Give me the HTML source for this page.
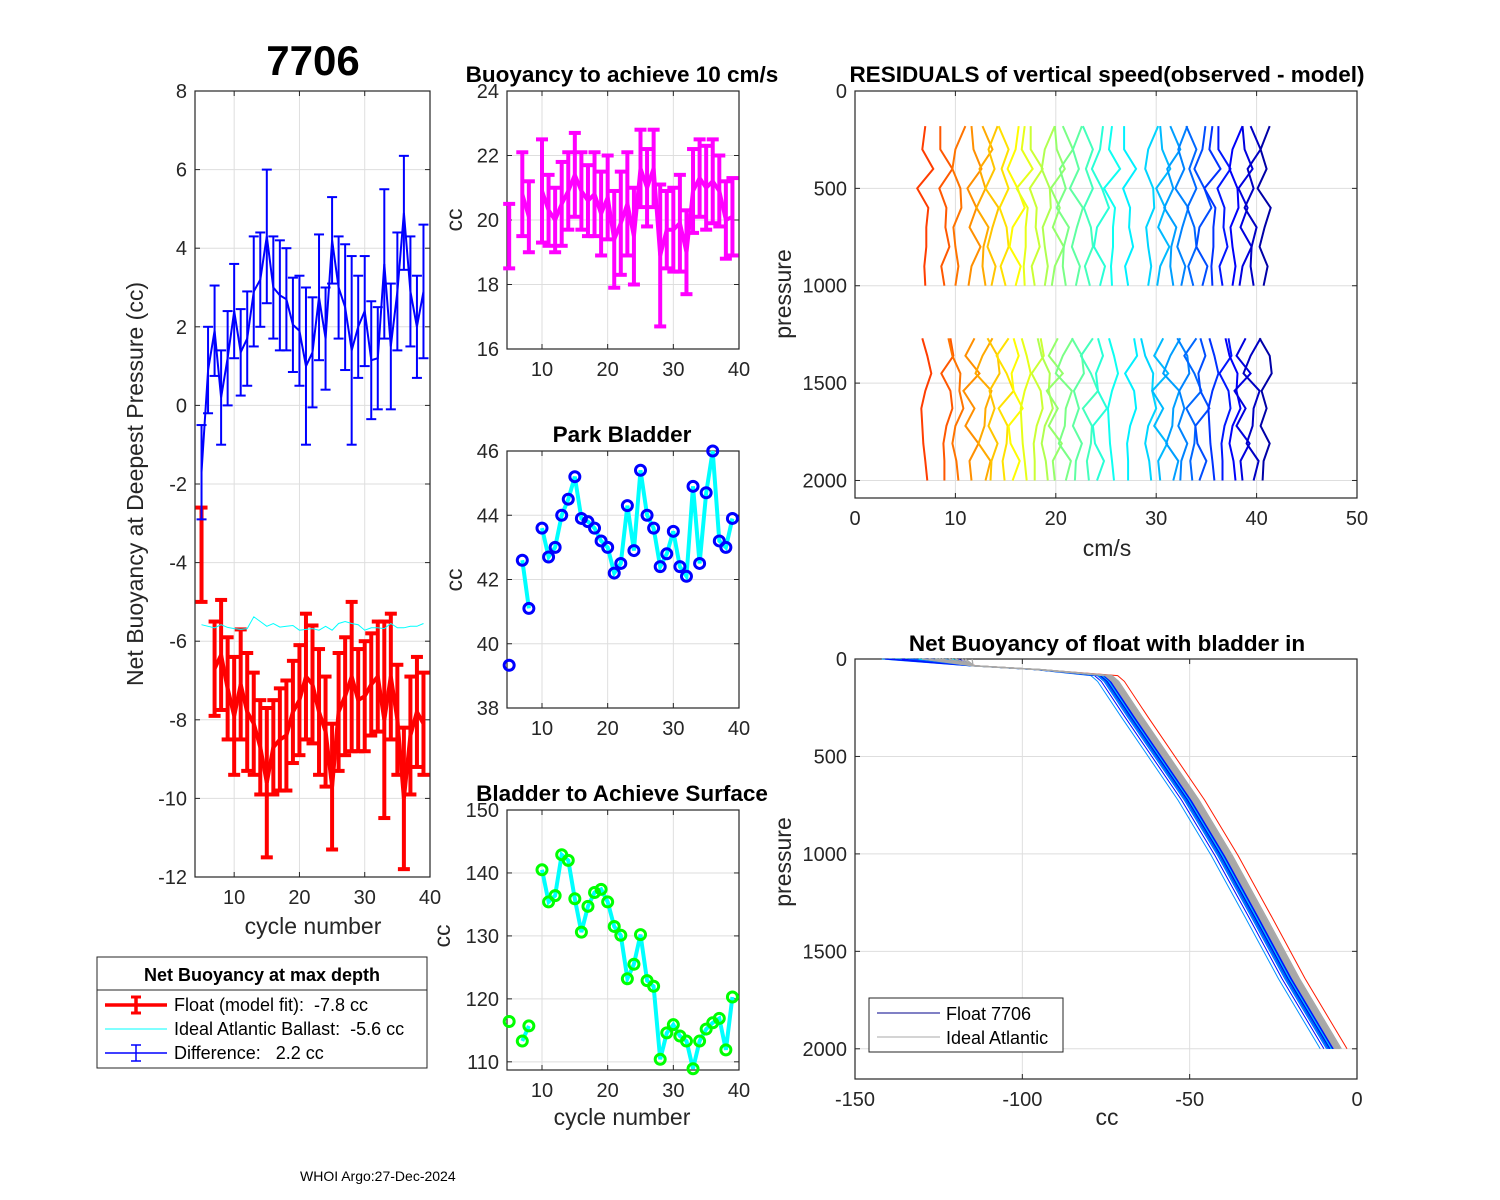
<!DOCTYPE html>
<html><head><meta charset="utf-8"><title>Float 7706 buoyancy diagnostics</title>
<style>
html,body{margin:0;padding:0;background:#fff;}
svg{display:block;font-family:"Liberation Sans",Arial,sans-serif;}
text{white-space:pre;}
</style></head>
<body>
<svg id="chart" width="1500" height="1200" viewBox="0 0 1500 1200" xmlns="http://www.w3.org/2000/svg">
<rect x="0" y="0" width="1500" height="1200" fill="#fff"/>
<text x="313" y="75" text-anchor="middle" font-size="42" font-weight="bold" fill="#000">7706</text>
<text x="622" y="82" text-anchor="middle" font-size="22.5" font-weight="bold">Buoyancy to achieve 10 cm/s</text>
<text x="622" y="442" text-anchor="middle" font-size="22.5" font-weight="bold">Park Bladder</text>
<text x="622" y="801" text-anchor="middle" font-size="22.5" font-weight="bold">Bladder to Achieve Surface</text>
<text x="1107" y="82" text-anchor="middle" font-size="22.5" font-weight="bold">RESIDUALS of vertical speed(observed - model)</text>
<text x="1107" y="651" text-anchor="middle" font-size="22.5" font-weight="bold">Net Buoyancy of float with bladder in</text>
<text x="313" y="934" text-anchor="middle" font-size="23" fill="#262626">cycle number</text>
<text x="622" y="1125" text-anchor="middle" font-size="23" fill="#262626">cycle number</text>
<text x="1107" y="556" text-anchor="middle" font-size="23" fill="#262626">cm/s</text>
<text x="1107" y="1125" text-anchor="middle" font-size="23" fill="#262626">cc</text>
<text transform="translate(143,484) rotate(-90)" text-anchor="middle" font-size="23" fill="#262626">Net Buoyancy at Deepest Pressure (cc)</text>
<text transform="translate(462,220) rotate(-90)" text-anchor="middle" font-size="23" fill="#262626">cc</text>
<text transform="translate(462,580) rotate(-90)" text-anchor="middle" font-size="23" fill="#262626">cc</text>
<text transform="translate(450,936) rotate(-90)" text-anchor="middle" font-size="23" fill="#262626">cc</text>
<text transform="translate(791,294) rotate(-90)" text-anchor="middle" font-size="23" fill="#262626">pressure</text>
<text transform="translate(791,862) rotate(-90)" text-anchor="middle" font-size="23" fill="#262626">pressure</text>
<text x="300" y="1181" font-size="14" fill="#000">WHOI Argo:27-Dec-2024</text>
</svg>
<script>
// ---- data ----
const cycles = [5,6,7,8,9,10,11,12,13,14,15,16,17,18,19,20,21,22,23,24,25,26,27,28,29,30,31,32,33,34,35,36,37,38,39];
const diffValues = [-1.7,0.9,1.9,0.2,1.2,2.4,1.35,1.7,2.9,3.2,4.3,3.0,2.8,2.7,2.05,1.9,1.0,1.35,2.75,1.7,4.2,3.0,2.5,1.4,2.0,2.4,1.15,1.2,3.6,1.5,2.9,4.9,2.9,2.0,2.9];
const diffErr = [1.2,1.1,1.15,1.2,1.2,1.2,1.1,1.2,1.4,1.2,1.7,1.3,1.4,1.3,1.2,1.4,2.0,1.4,1.6,1.3,1.1,1.3,1.6,2.4,1.3,1.4,1.5,1.3,1.9,1.6,1.5,1.45,1.4,1.3,1.7];
const floatValues = [-3.8,null,-6.7,-6.35,-7.2,-7.9,-7.1,-7.8,-8.1,-8.7,-9.6,-8.7,-8.5,-8.4,-7.8,-7.5,-6.9,-7.1,-7.8,-8.3,-9.7,-7.8,-7.4,-6.9,-7.5,-7.4,-7.1,-6.9,-8.0,-6.9,-8.0,-10.0,-8.4,-7.8,-8.1];
const floatErr = [1.2,null,1.2,1.4,1.3,1.5,1.4,1.5,1.3,1.2,1.9,1.2,1.3,1.4,1.3,1.4,1.6,1.5,1.6,1.4,1.6,1.5,1.5,1.9,1.3,1.4,1.3,1.4,2.5,1.6,1.4,1.8,1.5,1.4,1.3];
const idealBallast = [-5.58,-5.62,-5.66,-5.58,-5.65,-5.68,-5.7,-5.68,-5.38,-5.5,-5.62,-5.55,-5.64,-5.62,-5.6,-5.72,-5.7,-5.68,-5.72,-5.62,-5.72,-5.55,-5.5,-5.55,-5.58,-5.72,-5.66,-5.66,-5.68,-5.55,-5.66,-5.66,-5.62,-5.62,-5.55];
const speedBuoy = [19.5,null,20.8,20.1,null,20.9,20.3,20.0,20.5,20.9,21.4,20.9,20.6,20.8,20.2,20.7,19.4,19.9,20.5,19.5,21.6,21.0,21.6,18.9,19.7,19.7,19.9,19.0,20.9,21.3,21.0,21.2,20.9,20.0,20.1];
const speedErr = [1.0,null,1.3,1.1,null,1.6,1.1,1.0,1.3,1.2,1.3,1.2,1.1,1.3,1.3,1.3,1.5,1.6,1.6,1.5,1.2,1.2,1.2,2.2,1.2,1.3,1.5,1.3,1.3,1.2,1.3,1.3,1.1,1.2,1.2];
const parkBladder = [39.33,null,42.6,41.1,null,43.6,42.7,43.0,44.0,44.5,45.2,43.9,43.8,43.6,43.2,43.0,42.2,42.5,44.3,42.9,45.4,44.0,43.6,42.4,42.8,43.5,42.4,42.1,44.9,42.5,44.7,46.0,43.2,43.0,43.9];
const surfaceBladder = [116.4,null,113.3,115.7,null,140.5,135.4,136.4,142.9,142.0,135.9,130.6,134.7,136.9,137.4,135.4,131.5,130.1,123.2,125.5,130.2,122.9,122.0,110.4,114.6,115.9,114.1,113.3,108.9,113.3,115.2,116.2,116.9,111.9,120.3];

const resOffsets = [7.0,8.9,10.0,11.6,12.9,13.7,14.9,16.0,16.9,17.9,18.9,19.9,20.9,22.1,23.3,24.4,25.6,27.2,29.2,30.4,31.6,32.6,33.6,34.6,35.6,36.6,37.6,38.6,39.6,40.8];
const resPressTop = [180,300,400,500,600,700,800,900,1000];
const resPressBot = [1270,1360,1450,1540,1630,1720,1810,1900,2000];
const resPatterns = [
 [0.0,-0.3,0.8,-0.8,0.3,0.1,0.1,-0.1,0.0, -0.3,0.2,0.6,0.0,-0.4,-0.3,-0.2,0.0,0.2],
 [-0.4,-0.4,0.8,-0.5,0.2,0.1,0.5,-0.3,0.0, 0.6,0.9,-0.3,0.6,0.8,0.2,-0.1,0.0,0.0],
 [1.0,0.0,-0.3,0.5,0.6,-0.2,0.0,0.3,0.0, -0.7,-0.3,0.5,0.4,0.8,0.0,-0.3,0.1,0.3],
 [0.0,0.2,1.0,-0.4,0.5,-0.2,0.9,0.0,-0.3, 0.3,-0.6,0.8,-0.8,0.3,-0.6,0.7,-0.2,0.0],
 [-0.2,0.8,-0.5,0.1,-0.8,0.4,-0.1,-0.2,0.1, 0.8,-0.2,-0.9,0.7,0.1,0.0,-0.6,0.6,0.1],
 [0.5,-0.4,0.2,-0.7,0.6,0.0,-0.5,0.3,-0.1, -0.5,0.5,0.7,-0.3,0.2,-0.4,0.5,-0.1,-0.2],
 [-0.6,0.4,-0.3,0.4,-0.5,0.2,0.4,-0.4,0.1, 0.4,-0.8,0.2,0.9,-0.6,0.3,0.2,-0.2,0.0],
 [0.3,0.0,-0.8,0.2,0.9,-0.3,-0.6,0.5,0.0, -0.2,0.3,-0.4,-0.2,0.7,-0.7,-0.5,0.4,-0.3]
];

const profileCC = [-140,-115,-95,-76,-74,-67,-50,-40,-30,-20,-7.5];
const profileP = [0,35,55,85,115,296,724,1010,1323,1640,2000];
const floatShift = [4.5,-1.2,0.5,-0.8,-3.5,0.2,-0.5,-1.0,0.8,-0.3,-1.6,0.0,-0.7,0.4,-1.3,-0.2,-0.9,0.6,-0.4,-2.4,0.1,-0.6,-1.1,0.3,-0.8,-0.1,-1.4,0.5,-0.5,-0.9,0.2,-0.3,-1.0,-0.6,-0.2];
const floatTopStart = [-122,-140,-138,-130,-142,-128,-134,-120,-136,-125,-132,-118,-140,-127,-135,-122,-130,-138,-124,-141,-126,-133,-119,-137,-129,-131,-123,-139,-121,-128,-136,-126,-134,-120,-130];
const idealShift = [0.8,1.2,1.6,2.0,2.4,1.0,1.8,2.8,1.4,2.2];
const idealTopStart = [-130,-125,-118,-128,-122,-115,-126,-120,-124,-117];

// ---- helpers ----
const NS = 'http://www.w3.org/2000/svg';
const svg = document.getElementById('chart');
function mk(tag, attrs, name, parent) {
  const el = document.createElementNS(NS, tag);
  for (const k in attrs) el.setAttribute(k, attrs[k]);
  
  
  (parent || svg).appendChild(el);
  return el;
}
function jet(t) {
  const c = v => Math.round(255 * Math.max(0, Math.min(1, v)));
  return 'rgb(' + c(1.5 - Math.abs(4*t - 3)) + ',' + c(1.5 - Math.abs(4*t - 2)) + ',' + c(1.5 - Math.abs(4*t - 1)) + ')';
}
function makeAxes(cfg) {
  const g = mk('g', {}, cfg.name);
  const sx = v => cfg.px0 + (v - cfg.xmin) / (cfg.xmax - cfg.xmin) * (cfg.px1 - cfg.px0);
  const sy = cfg.rev
    ? v => cfg.py0 + (v - cfg.ymin) / (cfg.ymax - cfg.ymin) * (cfg.py1 - cfg.py0)
    : v => cfg.py1 - (v - cfg.ymin) / (cfg.ymax - cfg.ymin) * (cfg.py1 - cfg.py0);
  cfg.xticks.forEach(t => {
    mk('line', {x1: sx(t), x2: sx(t), y1: cfg.py0, y2: cfg.py1, stroke: '#dedede', 'stroke-width': 1}, 'x-grid-line', g);
  });
  cfg.yticks.forEach(t => {
    mk('line', {x1: cfg.px0, x2: cfg.px1, y1: sy(t), y2: sy(t), stroke: '#dedede', 'stroke-width': 1}, 'y-grid-line', g);
  });
  mk('rect', {x: cfg.px0, y: cfg.py0, width: cfg.px1 - cfg.px0, height: cfg.py1 - cfg.py0, fill: 'none', stroke: '#262626', 'stroke-width': 1.2}, 'axes-box', g);
  cfg.xticks.forEach(t => {
    mk('line', {x1: sx(t), x2: sx(t), y1: cfg.py1, y2: cfg.py1 - 5, stroke: '#262626'}, 'x-tick', g);
    mk('line', {x1: sx(t), x2: sx(t), y1: cfg.py0, y2: cfg.py0 + 5, stroke: '#262626'}, 'x-tick', g);
    const tx = mk('text', {x: sx(t), y: cfg.py1 + 27, 'text-anchor': 'middle', 'font-size': 20, fill: '#262626'}, 'x-tick-label', g);
    tx.textContent = String(t);
  });
  cfg.yticks.forEach(t => {
    mk('line', {x1: cfg.px0, x2: cfg.px0 + 5, y1: sy(t), y2: sy(t), stroke: '#262626'}, 'y-tick', g);
    mk('line', {x1: cfg.px1, x2: cfg.px1 - 5, y1: sy(t), y2: sy(t), stroke: '#262626'}, 'y-tick', g);
    const ty = mk('text', {x: cfg.px0 - 8, y: sy(t) + 7, 'text-anchor': 'end', 'font-size': 20, fill: '#262626'}, 'y-tick-label', g);
    ty.textContent = String(t);
  });
  return {sx, sy, g};
}
function linePath(xs, ys, sx, sy) {
  let d = '', pen = false;
  for (let i = 0; i < xs.length; i++) {
    if (ys[i] === null) { pen = false; continue; }
    d += (pen ? 'L' : 'M') + sx(xs[i]).toFixed(1) + ',' + sy(ys[i]).toFixed(1);
    pen = true;
  }
  return d;
}
function errorBars(ax, vals, errs, color, width, cap, name) {
  cycles.forEach((c, i) => {
    if (vals[i] === null) return;
    const x = ax.sx(c), y1 = ax.sy(vals[i] + errs[i]), y2 = ax.sy(vals[i] - errs[i]);
    mk('line', {x1: x, x2: x, y1: y1, y2: y2, stroke: color, 'stroke-width': width}, name + '-bar', ax.g);
    mk('line', {x1: x - cap, x2: x + cap, y1: y1, y2: y1, stroke: color, 'stroke-width': width}, name + '-cap-top', ax.g);
    mk('line', {x1: x - cap, x2: x + cap, y1: y2, y2: y2, stroke: color, 'stroke-width': width}, name + '-cap-bottom', ax.g);
  });
  mk('path', {d: linePath(cycles, vals, ax.sx, ax.sy), fill: 'none', stroke: color, 'stroke-width': width, 'stroke-linejoin': 'miter'}, name + '-line', ax.g);
}
function markers(ax, vals, color, name) {
  cycles.forEach((c, i) => {
    if (vals[i] === null) return;
    mk('circle', {cx: ax.sx(c), cy: ax.sy(vals[i]), r: 5, fill: 'none', stroke: color, 'stroke-width': 3}, name, ax.g);
  });
}

// ---- left panel ----
const axL = makeAxes({name: 'net-buoyancy-axes', px0: 195, px1: 430, py0: 91, py1: 877, xmin: 4, xmax: 40, ymin: -12, ymax: 8, xticks: [10,20,30,40], yticks: [-12,-10,-8,-6,-4,-2,0,2,4,6,8]});
errorBars(axL, floatValues, floatErr, '#ff0000', 4, 6, 'float-model-fit');
mk('path', {d: linePath(cycles, idealBallast, axL.sx, axL.sy), fill: 'none', stroke: '#00ffff', 'stroke-width': 1}, 'ideal-ballast-line', axL.g);
errorBars(axL, diffValues, diffErr, '#0000ff', 2, 5, 'difference');

// ---- legend left ----
const lg = mk('g', {}, 'net-buoyancy-legend');
mk('rect', {x: 97, y: 957, width: 330, height: 111, fill: '#fff', stroke: '#262626', 'stroke-width': 1}, 'legend-box', lg);
mk('line', {x1: 97, x2: 427, y1: 990, y2: 990, stroke: '#262626', 'stroke-width': 1}, 'legend-separator', lg);
const lt = mk('text', {x: 262, y: 981, 'text-anchor': 'middle', 'font-size': 18, 'font-weight': 'bold'}, 'legend-title', lg);
lt.textContent = 'Net Buoyancy at max depth';
mk('line', {x1: 105, x2: 167, y1: 1005, y2: 1005, stroke: '#ff0000', 'stroke-width': 3.5}, 'legend-float-line', lg);
mk('line', {x1: 136, x2: 136, y1: 997, y2: 1013, stroke: '#ff0000', 'stroke-width': 3.5}, 'legend-float-bar', lg);
mk('line', {x1: 131, x2: 141, y1: 997, y2: 997, stroke: '#ff0000', 'stroke-width': 3}, 'legend-float-cap', lg);
mk('line', {x1: 131, x2: 141, y1: 1013, y2: 1013, stroke: '#ff0000', 'stroke-width': 3}, 'legend-float-cap', lg);
mk('line', {x1: 105, x2: 167, y1: 1029, y2: 1029, stroke: '#00ffff', 'stroke-width': 1}, 'legend-ideal-line', lg);
mk('line', {x1: 105, x2: 167, y1: 1053, y2: 1053, stroke: '#0000ff', 'stroke-width': 1.5}, 'legend-diff-line', lg);
mk('line', {x1: 136, x2: 136, y1: 1045, y2: 1061, stroke: '#0000ff', 'stroke-width': 1.5}, 'legend-diff-bar', lg);
mk('line', {x1: 131, x2: 141, y1: 1045, y2: 1045, stroke: '#0000ff', 'stroke-width': 1.5}, 'legend-diff-cap', lg);
mk('line', {x1: 131, x2: 141, y1: 1061, y2: 1061, stroke: '#0000ff', 'stroke-width': 1.5}, 'legend-diff-cap', lg);
const l1 = mk('text', {x: 174, y: 1011, 'font-size': 18}, 'legend-float-label', lg);
l1.textContent = 'Float (model fit):  -7.8 cc';
const l2 = mk('text', {x: 174, y: 1035, 'font-size': 18}, 'legend-ideal-label', lg);
l2.textContent = 'Ideal Atlantic Ballast:  -5.6 cc';
const l3 = mk('text', {x: 174, y: 1059, 'font-size': 18}, 'legend-diff-label', lg);
l3.textContent = 'Difference:   2.2 cc';

// ---- middle panels ----
const axB = makeAxes({name: 'buoyancy-10cms-axes', px0: 507, px1: 739, py0: 91, py1: 349, xmin: 4.67, xmax: 40, ymin: 16, ymax: 24, xticks: [10,20,30,40], yticks: [16,18,20,22,24]});
errorBars(axB, speedBuoy, speedErr, '#ff00ff', 4, 6, 'speed-buoyancy');

const axP = makeAxes({name: 'park-bladder-axes', px0: 507, px1: 739, py0: 451, py1: 708, xmin: 4.67, xmax: 40, ymin: 38, ymax: 46, xticks: [10,20,30,40], yticks: [38,40,42,44,46]});
mk('path', {d: linePath(cycles, parkBladder, axP.sx, axP.sy), fill: 'none', stroke: '#00ffff', 'stroke-width': 4}, 'park-bladder-line', axP.g);
markers(axP, parkBladder, '#0000ff', 'park-bladder-marker');

const axS = makeAxes({name: 'surface-bladder-axes', px0: 507, px1: 739, py0: 810, py1: 1070, xmin: 4.67, xmax: 40, ymin: 108.7, ymax: 150, xticks: [10,20,30,40], yticks: [110,120,130,140,150]});
mk('path', {d: linePath(cycles, surfaceBladder, axS.sx, axS.sy), fill: 'none', stroke: '#00ffff', 'stroke-width': 4}, 'surface-bladder-line', axS.g);
markers(axS, surfaceBladder, '#00ff00', 'surface-bladder-marker');

// ---- residuals ----
const axR = makeAxes({name: 'residuals-axes', px0: 855, px1: 1357, py0: 91, py1: 498, xmin: 0, xmax: 50, ymin: 0, ymax: 2090, rev: true, xticks: [0,10,20,30,40,50], yticks: [0,500,1000,1500,2000]});
resOffsets.forEach((off, i) => {
  const pat = resPatterns[i % resPatterns.length];
  const col = jet(0.815 - i * (0.775 / (resOffsets.length - 1)));
  const xsTop = resPressTop.map((p, k) => off + pat[k]);
  const xsBot = resPressBot.map((p, k) => off + pat[9 + k]);
  let d = 'M' + resPressTop.map((p, k) => axR.sx(xsTop[k]).toFixed(1) + ',' + axR.sy(p).toFixed(1)).join('L');
  d += 'M' + resPressBot.map((p, k) => axR.sx(xsBot[k]).toFixed(1) + ',' + axR.sy(p).toFixed(1)).join('L');
  mk('path', {d: d, fill: 'none', stroke: col, 'stroke-width': 2}, 'residual-profile', axR.g);
});

// ---- profiles ----
const axF = makeAxes({name: 'profile-axes', px0: 855, px1: 1357, py0: 659, py1: 1079, xmin: -150, xmax: 0, ymin: 0, ymax: 2155, rev: true, xticks: [-150,-100,-50,0], yticks: [0,500,1000,1500,2000]});
function profilePath(shift, start) {
  return profileCC.map((c, k) => {
    const cc = k === 0 ? start : (k < 3 ? c + shift * 0.3 : c + shift);
    return (k ? 'L' : 'M') + axF.sx(cc).toFixed(1) + ',' + axF.sy(profileP[k]).toFixed(1);
  }).join('');
}
floatShift.forEach((s, i) => {
  const t = i === 0 ? 0.85 : 0.1 + 0.28 * ((i * 7) % 11) / 10;
  mk('path', {d: profilePath(s, floatTopStart[i]), fill: 'none', stroke: jet(t), 'stroke-width': 1}, 'float-profile', axF.g);
});
idealShift.forEach((s, i) => {
  mk('path', {d: profilePath(s, idealTopStart[i]), fill: 'none', stroke: '#a8a8a8', 'stroke-width': 1.3}, 'ideal-profile', axF.g);
});
const lg2 = mk('g', {}, 'profile-legend');
mk('rect', {x: 869, y: 998, width: 194, height: 54, fill: '#fff', stroke: '#262626', 'stroke-width': 1}, 'legend-box', lg2);
mk('line', {x1: 877, x2: 940, y1: 1013, y2: 1013, stroke: '#00008b', 'stroke-width': 1}, 'legend-float-line', lg2);
mk('line', {x1: 877, x2: 940, y1: 1037, y2: 1037, stroke: '#a8a8a8', 'stroke-width': 1}, 'legend-ideal-line', lg2);
const f1 = mk('text', {x: 946, y: 1020, 'font-size': 18}, 'legend-float-label', lg2);
f1.textContent = 'Float 7706';
const f2 = mk('text', {x: 946, y: 1044, 'font-size': 18}, 'legend-ideal-label', lg2);
f2.textContent = 'Ideal Atlantic';
</script>
</body></html>
